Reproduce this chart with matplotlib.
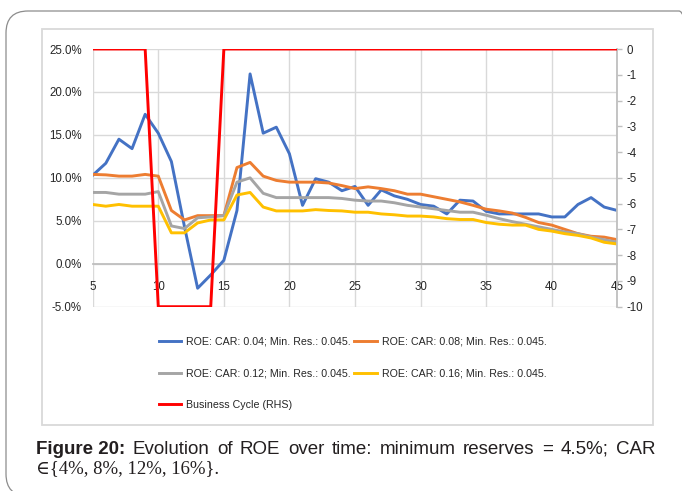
import matplotlib
matplotlib.use("Agg")
import matplotlib.pyplot as plt
from matplotlib.patches import FancyBboxPatch, Rectangle
from matplotlib.ticker import FuncFormatter

# ---- data -------------------------------------------------------------
periods = list(range(5, 46))

roe_car_04 = [10.3, 11.7, 14.5, 13.4, 17.4, 15.2, 11.9, 4.3, -2.85, -1.3,
              0.4, 6.2, 22.1, 15.2, 15.9, 12.8, 6.8, 9.9, 9.5, 8.5,
              9.0, 6.8, 8.6, 7.9, 7.5, 6.9, 6.7, 5.8, 7.4, 7.3,
              6.1, 5.8, 5.8, 5.8, 5.8, 5.45, 5.45, 6.9, 7.7, 6.6, 6.2]
roe_car_08 = [10.4, 10.35, 10.2, 10.2, 10.4, 10.2, 6.2, 5.1, 5.6, 5.6,
              5.6, 11.2, 11.8, 10.2, 9.7, 9.5, 9.5, 9.5, 9.4, 9.1,
              8.75, 8.95, 8.75, 8.5, 8.1, 8.1, 7.8, 7.5, 7.2, 6.8,
              6.35, 6.15, 5.9, 5.4, 4.8, 4.5, 4.0, 3.5, 3.2, 3.1, 2.8]
roe_car_12 = [8.3, 8.3, 8.1, 8.1, 8.1, 8.4, 4.4, 4.1, 5.35, 5.45,
              5.6, 9.5, 10.0, 8.2, 7.7, 7.7, 7.7, 7.7, 7.7, 7.6,
              7.4, 7.3, 7.3, 7.1, 6.8, 6.6, 6.4, 6.2, 6.0, 6.0,
              5.65, 5.25, 4.9, 4.6, 4.3, 4.0, 3.7, 3.5, 3.1, 2.8, 2.5]
roe_car_16 = [6.9, 6.7, 6.9, 6.7, 6.7, 6.7, 3.6, 3.6, 4.75, 5.1,
              5.1, 8.0, 8.3, 6.6, 6.15, 6.15, 6.15, 6.3, 6.2, 6.15,
              6.0, 6.0, 5.8, 5.7, 5.55, 5.55, 5.45, 5.25, 5.15, 5.15,
              4.8, 4.6, 4.5, 4.5, 4.0, 3.8, 3.5, 3.3, 3.0, 2.5, 2.3]
business_cycle = [0, 0, 0, 0, 0, -10, -10, -10, -10, -10] + [0] * 31

series_labels = [
    "ROE: CAR: 0.04; Min. Res.: 0.045.",
    "ROE: CAR: 0.08; Min. Res.: 0.045.",
    "ROE: CAR: 0.12; Min. Res.: 0.045.",
    "ROE: CAR: 0.16; Min. Res.: 0.045.",
]
cycle_label = "Business Cycle (RHS)"

x_ticks = list(range(5, 46, 5))
left_ticks = [-5, 0, 5, 10, 15, 20, 25]
right_ticks = list(range(0, -11, -1))

caption_bold = "Figure 20:"
caption_words = ["Evolution", "of", "ROE", "over", "time:", "minimum",
                 "reserves", "=", "4.5%;", "CAR"]
caption_line2 = "\u2208{4%, 8%, 12%, 16%}."

# ---- styling ----------------------------------------------------------
plt.rcParams["font.family"] = ["Liberation Sans", "DejaVu Sans"]
plt.rcParams["axes.unicode_minus"] = False
colors = ["#4472C4", "#ED7D31", "#A5A5A5", "#FFC000"]
red = "#FF0000"
grid_c = "#D9D9D9"
axis_c = "#BFBFBF"
tick_c = "#262626"

W, H = 682, 491
fig = plt.figure(figsize=(W / 100, H / 100), dpi=100)

# outer rounded panel and inner chart frame (pixel-based, via inches)
panel = FancyBboxPatch((0.06, -0.05), 6.95, 4.85,
                       boxstyle="round,pad=0,rounding_size=0.22",
                       transform=fig.dpi_scale_trans, fill=False,
                       edgecolor="#8C8C8C", linewidth=0.9)
fig.patches.append(panel)
frame = Rectangle((0.42, 0.66), 6.107, 3.96, transform=fig.dpi_scale_trans,
                  fill=False, edgecolor="#D9D9D9", linewidth=1.3)
fig.patches.append(frame)

ax = fig.add_axes([92.7 / W, 1 - 306.7 / H, (617.3 - 92.7) / W, (306.7 - 49) / H])
ax.patch.set_visible(False)

lines = []
for vals, c, lab in zip([roe_car_04, roe_car_08, roe_car_12, roe_car_16], colors, series_labels):
    ln, = ax.plot(periods, vals, color=c, linewidth=2.1, label=lab,
                  solid_joinstyle="round", zorder=3)
    lines.append(ln)

ax.set_xlim(5, 45)
ax.set_ylim(-5, 25)
ax.set_yticks(left_ticks)
ax.yaxis.set_major_formatter(FuncFormatter(lambda v, p: f"{v:.1f}%"))
ax.set_xticks(x_ticks)
ax.grid(True, color=grid_c, linewidth=1.0, zorder=0)
ax.set_axisbelow(True)
for s in ["top", "right", "left"]:
    ax.spines[s].set_visible(False)
ax.spines["bottom"].set_position(("data", 0))
ax.spines["bottom"].set_color(axis_c)
ax.spines["bottom"].set_linewidth(1.3)
ax.tick_params(axis="x", length=0, pad=12.5, labelsize=8.3, colors=tick_c)
ax.tick_params(axis="y", length=0, pad=8, labelsize=8.3, colors=tick_c)

ax2 = ax.twinx()
cyc, = ax2.plot(periods, business_cycle, color=red, linewidth=2.1,
                label=cycle_label, zorder=4)
ax2.set_ylim(-10, 0)
ax2.set_yticks(right_ticks)
for s in ["top", "left", "bottom"]:
    ax2.spines[s].set_visible(False)
ax2.spines["right"].set_color(axis_c)
ax2.spines["right"].set_linewidth(1.3)
ax2.tick_params(axis="y", length=3.5, width=1.0, color=axis_c, pad=3,
                labelsize=8.3, labelcolor=tick_c)

# legend: two columns, filled column-wise
handles = [lines[0], lines[2], cyc, lines[1], lines[3]]
fig.legend(handles, [h.get_label() for h in handles], ncol=2,
           loc="upper left", bbox_to_anchor=(159 / W, 1 - 337 / H),
           frameon=False, fontsize=7.7, handlelength=2.1, handletextpad=0.45,
           labelcolor=tick_c, columnspacing=0.3, labelspacing=2.0,
           borderpad=0, borderaxespad=0)

# caption, first line justified between left and right margins
left_px, right_px = 36, 655
base1 = 1 - 454 / H
texts = [fig.text(0, base1, caption_bold, fontsize=13.5, fontweight="bold",
                  color="#231F20", va="baseline")]
for w in caption_words:
    texts.append(fig.text(0, base1, w, fontsize=13.5, color="#231F20", va="baseline"))
fig.canvas.draw()
renderer = fig.canvas.get_renderer()
widths = [t.get_window_extent(renderer).width for t in texts]
gap = (right_px - left_px - sum(widths)) / (len(texts) - 1)
xpos = left_px
for t, w in zip(texts, widths):
    t.set_x(xpos / W)
    xpos += w + gap

fig.text(left_px / W, 1 - 473 / H, caption_line2, fontsize=13.5,
         family=["Liberation Serif", "DejaVu Serif"], color="#231F20", va="baseline")

fig.savefig("out.png", dpi=100)
